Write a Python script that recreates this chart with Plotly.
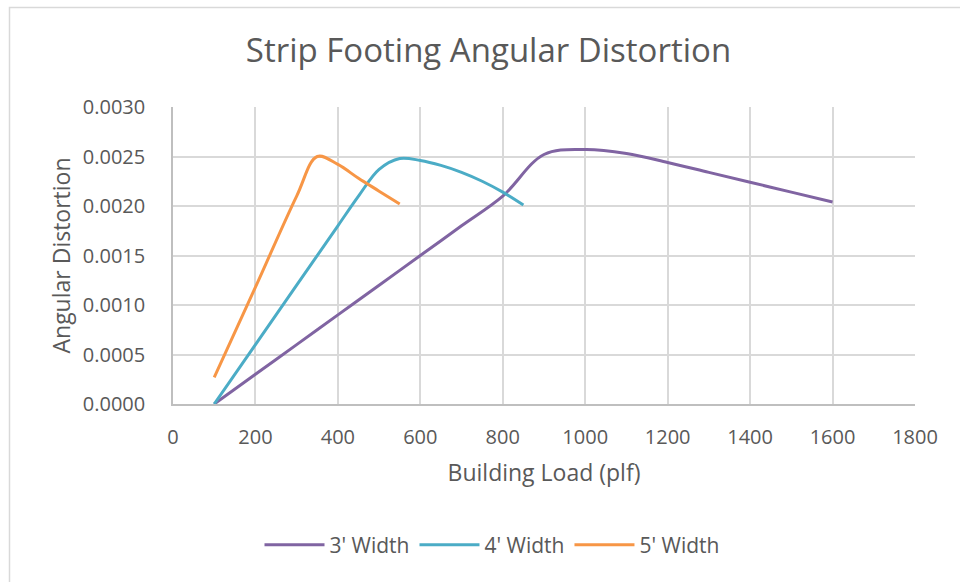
import plotly.graph_objects as go

# Building load (plf) and angular distortion for each footing width
load_3ft = [100, 200, 300, 400, 500, 600, 700, 800, 900, 1000, 1100, 1200, 1300, 1400, 1500, 1600]
dist_3ft = [0.0000, 0.0003, 0.0006, 0.0009, 0.0012, 0.0015, 0.0018, 0.0021, 0.00252, 0.00257,
            0.00253, 0.00244, 0.00234, 0.00224, 0.00214, 0.00204]

load_4ft = [100, 200, 300, 400, 450, 500, 550, 600, 650, 700, 750, 800, 850]
dist_4ft = [0.0000, 0.0006, 0.0012, 0.0018, 0.0021, 0.00237, 0.00248, 0.00246, 0.00241,
            0.00234, 0.00225, 0.00214, 0.00201]

load_5ft = [100, 200, 300, 350, 400, 450, 500, 550]
dist_5ft = [0.00027, 0.00118, 0.00210, 0.00250, 0.00242, 0.00228, 0.00215, 0.00202]

series_names = ["3' Width", "4' Width", "5' Width"]
series_colors = ["#8064A2", "#4BACC6", "#F79646"]

x_ticks = [0, 200, 400, 600, 800, 1000, 1200, 1400, 1600, 1800]
y_ticks = [0.0, 0.0005, 0.0010, 0.0015, 0.0020, 0.0025, 0.0030]

FONT = "'Open Sans', Lato, sans-serif"
TEXT = "#595959"

fig = go.Figure()
for name, xs, ys, col in zip(series_names, [load_3ft, load_4ft, load_5ft],
                              [dist_3ft, dist_4ft, dist_5ft], series_colors):
    fig.add_trace(go.Scatter(
        x=xs, y=ys, name=name, mode="lines",
        line=dict(color=col, width=3, shape="spline", smoothing=1.0),
    ))

fig.update_layout(
    width=960, height=582,
    margin=dict(l=173, r=45, t=107, b=178, autoexpand=False),
    paper_bgcolor="white", plot_bgcolor="white",
    font=dict(family=FONT, color=TEXT),
    title=dict(text="Strip Footing Angular Distortion", x=488.5 / 960, xanchor="center",
               y=1 - 50 / 582, yanchor="middle", xref="container", yref="container",
               font=dict(size=33, color=TEXT)),
    showlegend=True,
    legend=dict(orientation="h", x=(492 - 173) / 742, xanchor="center",
                y=-(545 - 404) / 297, yanchor="middle",
                font=dict(size=21, color=TEXT), itemwidth=60, traceorder="normal"),
    xaxis=dict(range=[0, 1800], tickvals=x_ticks, ticktext=[str(v) for v in x_ticks],
               showgrid=True, gridcolor="#D9D9D9", gridwidth=1.5,
               showline=True, linecolor="#BFBFBF", linewidth=1.5, zeroline=False,
               ticks="", ticklabelstandoff=14, tickangle=0,
               tickfont=dict(size=20, color=TEXT),
               title=dict(text="Building Load (plf)", font=dict(size=23, color=TEXT), standoff=16)),
    yaxis=dict(range=[0, 0.003], tickvals=y_ticks, ticktext=[f"{v:.4f}" for v in y_ticks],
               showgrid=True, gridcolor="#D9D9D9", gridwidth=1.5,
               showline=True, linecolor="#BFBFBF", linewidth=1.5, zeroline=False,
               ticks="", ticklabelstandoff=22,
               tickfont=dict(size=20, color=TEXT),
               title=dict(text="Angular Distortion", font=dict(size=23, color=TEXT), standoff=6)),
    shapes=[dict(type="rect", xref="paper", yref="paper",
                 x0=(9.5 - 173) / 742, x1=1.2, y0=-0.8, y1=(404 - 7.5) / 297,
                 line=dict(color="#D9D9D9", width=1.5), fillcolor="rgba(0,0,0,0)", layer="below")],
)

fig.write_html("out.html")
